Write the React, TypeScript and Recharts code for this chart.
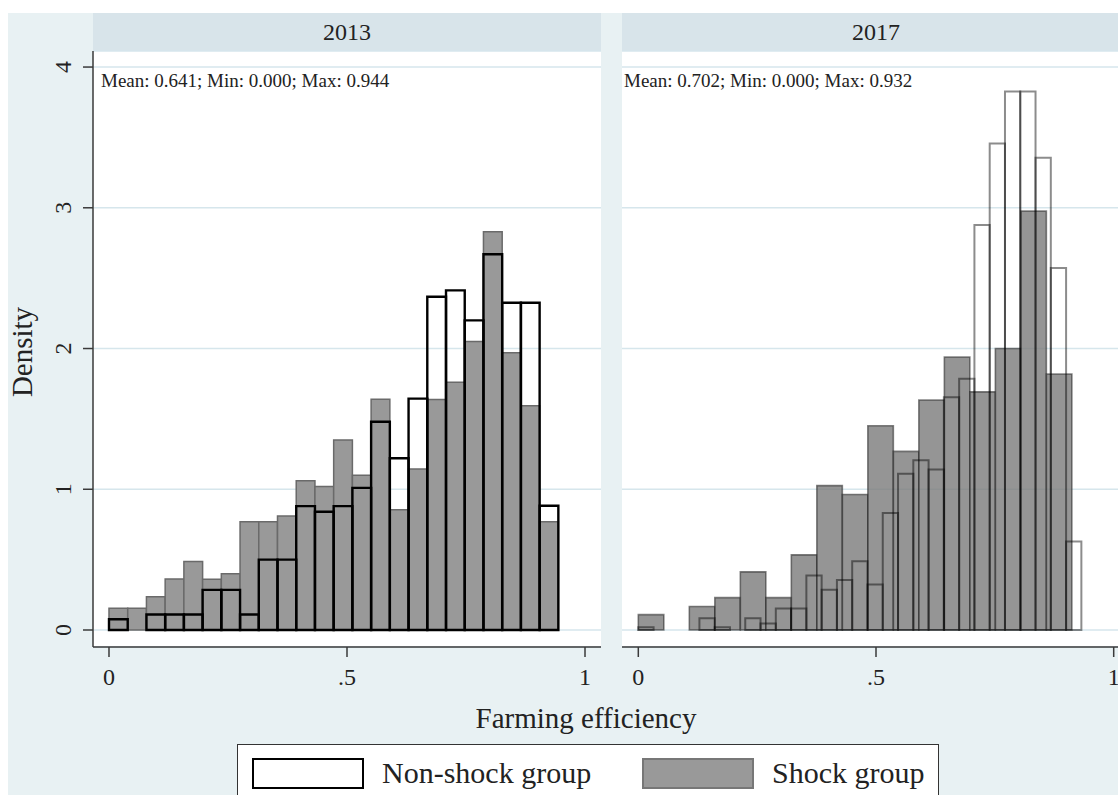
import React from 'react';
import {
  ComposedChart,
  XAxis,
  YAxis,
  CartesianGrid,
  ReferenceArea,
} from 'recharts';

// 2013 histogram: both groups share 24 bins on [0, 0.944]
const bins2013Max = 0.944;
const nonShock2013 = [
  0.076, 0, 0.11, 0.11, 0.11, 0.285, 0.285, 0.11, 0.5, 0.5, 0.88, 0.84,
  0.88, 1.01, 1.48, 1.22, 1.644, 2.368, 2.413, 2.2, 2.67, 2.325, 2.325, 0.883,
];
const shock2013 = [
  0.154, 0.154, 0.237, 0.363, 0.486, 0.36, 0.4, 0.77, 0.77, 0.81, 1.06, 1.02,
  1.35, 1.1, 1.64, 0.854, 1.144, 1.637, 1.76, 2.05, 2.83, 1.97, 1.594, 0.77,
];

// 2017 histogram: groups binned separately
const nonShock2017Max = 0.932;
const nonShock2017 = [
  0.02, 0, 0, 0, 0.084, 0.02, 0, 0.084, 0.046, 0.152, 0.152, 0.388, 0.286,
  0.355, 0.489, 0.324, 0.831, 1.11, 1.206, 1.14, 1.654, 1.786, 2.877, 3.457,
  3.827, 3.827, 3.356, 2.573, 0.628,
];
const shock2017Max = 0.912;
const shock2017 = [
  0.109, 0, 0.167, 0.23, 0.413, 0.23, 0.534, 1.026, 0.963, 1.451, 1.269,
  1.634, 1.94, 1.692, 2.0, 2.976, 1.819,
];

const yTicks = [0, 1, 2, 3, 4];
const xTicks = [0, 0.5, 1];
const xTickLabels = ['0', '.5', '1'];
const panelTitles = ['2013', '2017'];
const panelNotes = [
  'Mean: 0.641; Min: 0.000; Max: 0.944',
  'Mean: 0.702; Min: 0.000; Max: 0.932',
];
const seriesNames = ['Non-shock group', 'Shock group'];

const FONT = '"Liberation Serif", "DejaVu Serif", serif';
const BG = '#e8f1f3';
const STRIP = '#d8e4ea';
const AXIS = '#3a3a3a';
const GRID = '#d6e6ec';

const Y_DOMAIN: [number, number] = [-0.1208, 4.114];

function toBins(values: number[], max: number) {
  const w = max / values.length;
  return values.map((v, i) => ({ x1: i * w, x2: (i + 1) * w, y: v }));
}

const YTick = (props: any) => {
  const { x, y, payload } = props;
  const cx = x - 20;
  return (
    <text
      x={cx}
      y={y}
      transform={`rotate(-90, ${cx}, ${y})`}
      textAnchor="middle"
      dominantBaseline="central"
      fontFamily={FONT}
      fontSize={24}
      fill="#222"
    >
      {payload.value}
    </text>
  );
};

const XTick = (props: any) => {
  const { x, y, payload } = props;
  const idx = xTicks.indexOf(payload.value);
  return (
    <text
      x={x}
      y={y + 20}
      textAnchor="middle"
      dominantBaseline="central"
      fontFamily={FONT}
      fontSize={24}
      fill="#222"
    >
      {idx >= 0 ? xTickLabels[idx] : payload.value}
    </text>
  );
};

type PanelProps = {
  left: number;
  width: number;
  marginLeft: number;
  yAxisWidth: number;
  showY: boolean;
  xDomain: [number, number];
  shock: { x1: number; x2: number; y: number }[];
  nonShock: { x1: number; x2: number; y: number }[];
  faded: boolean;
};

function Panel({ left, width, marginLeft, yAxisWidth, showY, xDomain, shock, nonShock, faded }: PanelProps) {
  return (
    <div style={{ position: 'absolute', left, top: 0 }}>
      <ComposedChart
        width={width}
        height={700}
        data={[]}
        margin={{ top: 51, right: 9, bottom: 0, left: marginLeft }}
      >
        <CartesianGrid vertical={false} stroke={GRID} strokeWidth={1.5} fill="#ffffff" fillOpacity={1} />
        <XAxis
          type="number"
          dataKey="x"
          domain={xDomain}
          ticks={xTicks}
          allowDataOverflow
          height={53}
          tickSize={10}
          tickMargin={0}
          stroke={AXIS}
          axisLine={{ stroke: AXIS, strokeWidth: 1.5 }}
          tickLine={{ stroke: AXIS, strokeWidth: 1.5 }}
          tick={<XTick />}
          interval={0}
        />
        <YAxis
          type="number"
          domain={Y_DOMAIN}
          ticks={yTicks}
          allowDataOverflow
          width={yAxisWidth}
          hide={!showY}
          tickSize={10}
          tickMargin={0}
          axisLine={{ stroke: AXIS, strokeWidth: 1.5 }}
          tickLine={{ stroke: AXIS, strokeWidth: 1.5 }}
          tick={<YTick />}
          interval={0}
        />
        {shock.map((b, i) => (
          <ReferenceArea
            key={`s-${i}`}
            x1={b.x1}
            x2={b.x2}
            y1={0}
            y2={b.y}
            fill={faded ? '#7a7a7a' : '#999999'}
            fillOpacity={faded ? 0.8 : 1}
            stroke={faded ? '#222' : '#6a6a6a'}
            strokeOpacity={faded ? 0.55 : 1}
            strokeWidth={faded ? 1.6 : 1.5}
            ifOverflow="visible"
          />
        ))}
        {nonShock.map((b, i) =>
          b.y > 0 ? (
            <ReferenceArea
              key={`n-${i}`}
              x1={b.x1}
              x2={b.x2}
              y1={0}
              y2={b.y}
              fill="none"
              fillOpacity={0}
              stroke="#000"
              strokeOpacity={faded ? 0.45 : 1}
              strokeWidth={faded ? 2 : 2.4}
              ifOverflow="visible"
            />
          ) : null
        )}
      </ComposedChart>
    </div>
  );
}

export default function App() {
  return (
    <div
      style={{
        position: 'absolute',
        left: 0,
        top: 0,
        width: 1118,
        height: 795,
        overflow: 'hidden',
        background: '#fff',
        fontFamily: FONT,
        color: '#222',
      }}
    >
      <div style={{ position: 'absolute', left: 8, top: 13, width: 1110, height: 782, background: BG }} />

      {/* facet strips */}
      <div
        style={{
          position: 'absolute', left: 93, top: 13, width: 508, height: 38, background: STRIP,
          display: 'flex', alignItems: 'center', justifyContent: 'center', fontSize: 24,
        }}
      >
        {panelTitles[0]}
      </div>
      <div
        style={{
          position: 'absolute', left: 622, top: 13, width: 508, height: 38, background: STRIP,
          display: 'flex', alignItems: 'center', justifyContent: 'center', fontSize: 24,
        }}
      >
        {panelTitles[1]}
      </div>

      <Panel
        left={0}
        width={610}
        marginLeft={13}
        yAxisWidth={80}
        showY
        xDomain={[-0.0336, 1.0336]}
        shock={toBins(shock2013, bins2013Max)}
        nonShock={toBins(nonShock2013, bins2013Max)}
        faded={false}
      />
      <Panel
        left={622}
        width={517}
        marginLeft={0}
        yAxisWidth={0}
        showY={false}
        xDomain={[-0.0343, 1.0343]}
        shock={toBins(shock2017, shock2017Max)}
        nonShock={toBins(nonShock2017, nonShock2017Max)}
        faded
      />

      {/* stats notes */}
      <div style={{ position: 'absolute', left: 101, top: 81, fontSize: 19, whiteSpace: 'nowrap', transform: 'translateY(-50%)' }}>{panelNotes[0]}</div>
      <div style={{ position: 'absolute', left: 624, top: 81, fontSize: 19, whiteSpace: 'nowrap', transform: 'translateY(-50%)' }}>{panelNotes[1]}</div>

      {/* axis titles */}
      <div
        style={{
          position: 'absolute', left: 22, top: 352, fontSize: 29, whiteSpace: 'nowrap',
          transform: 'translate(-50%, -50%) rotate(-90deg)',
        }}
      >
        Density
      </div>
      <div
        style={{
          position: 'absolute', left: 586, top: 718, fontSize: 29, whiteSpace: 'nowrap',
          transform: 'translate(-50%, -50%)',
        }}
      >
        Farming efficiency
      </div>

      {/* legend */}
      <div
        style={{
          position: 'absolute', left: 237, top: 744, width: 700, height: 70,
          background: '#fff', border: '1.5px solid #333',
        }}
      />
      <div
        style={{
          position: 'absolute', left: 252, top: 758, width: 108, height: 27,
          background: '#fff', border: '2.5px solid #000',
        }}
      />
      <div style={{ position: 'absolute', left: 382, top: 773, fontSize: 30, whiteSpace: 'nowrap', transform: 'translateY(-50%)' }}>
        {seriesNames[0]}
      </div>
      <div
        style={{
          position: 'absolute', left: 642, top: 758, width: 108, height: 27,
          background: '#999', border: '2px solid #777',
        }}
      />
      <div style={{ position: 'absolute', left: 772, top: 773, fontSize: 30, whiteSpace: 'nowrap', transform: 'translateY(-50%)' }}>
        {seriesNames[1]}
      </div>
    </div>
  );
}
